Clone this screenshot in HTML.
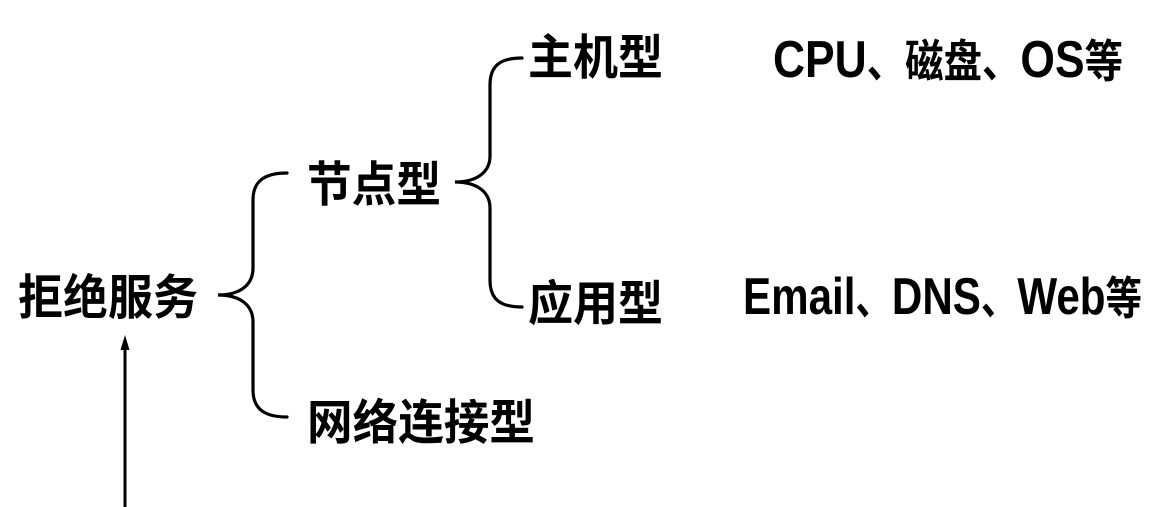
<!DOCTYPE html>
<html><head><meta charset="utf-8"><style>
html,body{margin:0;padding:0;background:#fff;}
svg{display:block;}
text{font-family:"Liberation Sans","WenQuanYi Zen Hei","Noto Sans CJK SC",sans-serif;font-weight:bold;fill:#000;}
.m{font-family:"Liberation Sans Narrow","Liberation Sans","WenQuanYi Zen Hei","Noto Sans CJK SC",sans-serif;font-weight:bold;}
</style></head><body>
<svg width="1166" height="507" viewBox="0 0 1166 507" xmlns="http://www.w3.org/2000/svg">
<g fill="none" stroke="#000" stroke-width="3.2" stroke-linecap="round">
<path d="M287,173 C266,173 253,180 253,200 L253,268 C253,285 240,295 218,295 C240,295 253,305 253,322 L253,390 C253,410 266,417 287,417"/>
<path d="M522,58 C501,58 490,65 490,85 L490,156 C490,172 477,182 455,182 C477,182 490,192 490,208 L490,280 C490,300 501,307 522,307"/>
</g>
<line x1="125" y1="507" x2="125" y2="348" stroke="#000" stroke-width="3"/>
<polygon points="125,335 120.5,350 129.5,350" fill="#000"/>
<text x="18" y="314" font-size="48" textLength="180" lengthAdjust="spacingAndGlyphs">拒绝服务</text>
<text x="307" y="201" font-size="48" textLength="134" lengthAdjust="spacingAndGlyphs">节点型</text>
<text x="307" y="439" font-size="48" textLength="228" lengthAdjust="spacingAndGlyphs">网络连接型</text>
<text x="528" y="74" font-size="48" textLength="135" lengthAdjust="spacingAndGlyphs">主机型</text>
<text x="528" y="320" font-size="48" textLength="135" lengthAdjust="spacingAndGlyphs">应用型</text>
<text class="m" x="773" y="77" font-size="45" textLength="350" lengthAdjust="spacingAndGlyphs"><tspan font-size="52">CPU</tspan>、磁盘、<tspan font-size="52">OS</tspan>等</text>
<text class="m" x="743" y="314" font-size="45" textLength="399" lengthAdjust="spacingAndGlyphs"><tspan font-size="52">Email</tspan>、<tspan font-size="52">DNS</tspan>、<tspan font-size="52">Web</tspan>等</text>
</svg>
</body></html>
